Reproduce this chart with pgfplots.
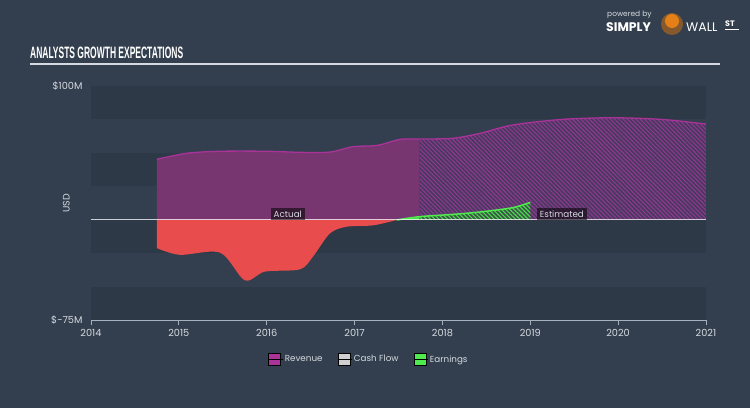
\documentclass[border=0pt]{standalone}
\usepackage{pgfplots}
\pgfplotsset{compat=1.18}
\usepackage{fontspec}
\setmainfont{Poppins}
\newfontfamily\titlefont{Liberation Sans}
\usetikzlibrary{patterns.meta}

\definecolor{bg}{HTML}{333F4E}
\definecolor{band}{HTML}{2D3946}
\definecolor{revfill}{HTML}{773670}
\definecolor{revline}{HTML}{A93398}
\definecolor{revhatchbg}{HTML}{4A3862}
\definecolor{revhatch}{HTML}{8E3A8C}
\definecolor{lossfill}{HTML}{E84C4C}
\definecolor{earnfill}{HTML}{4BDB4B}
\definecolor{earnline}{HTML}{4EEA4E}
\definecolor{earnhatchbg}{HTML}{3B5548}
\definecolor{txt}{HTML}{D5DAE0}
\definecolor{axisc}{HTML}{A7B1BD}
\definecolor{cashc}{HTML}{CFCFCF}

\begin{document}
\begin{tikzpicture}
\useasboundingbox (0bp,0bp) rectangle (750bp,408bp);
\fill[bg] (0bp,0bp) rectangle (750bp,408bp);

% title and rule
\node[anchor=west,inner sep=0,text=white] at (30bp,355bp)
  {\resizebox{153bp}{11.5bp}{\titlefont\bfseries ANALYSTS GROWTH EXPECTATIONS}};
\draw[color=txt,line width=1.3bp] (30bp,344bp) -- (720bp,344bp);

% logo
\node[anchor=west,inner sep=0,text=txt,font=\fontsize{7.5}{7.5}\selectfont] at (607bp,393bp) {powered by};
\node[anchor=west,inner sep=0,text=white,font=\fontsize{12.5}{12.5}\selectfont\bfseries] at (606bp,381bp) {SIMPLY};
\fill[brown!70!black] (672bp,384bp) circle (11bp);
\fill[orange!60!brown] (672bp,387bp) circle (7bp);
\node[anchor=west,inner sep=0,text=white,font=\fontsize{12.5}{12.5}\selectfont] at (686bp,381bp) {WALL};
\node[anchor=west,inner sep=0,text=white,font=\fontsize{8}{8}\selectfont\bfseries] at (725bp,384bp) {ST};
\draw[white,line width=0.8bp] (725bp,378.5bp) -- (739bp,378.5bp);

\begin{axis}[
  at={(91bp,87.5bp)}, anchor=south west,
  scale only axis, width=615bp, height=234.5bp,
  xmin=2014, xmax=2021, ymin=-75, ymax=100,
  axis x line*=bottom, axis y line*=left,
  x axis line style={-,draw=axisc,line width=0.9bp},
  y axis line style={draw=none},
  xtick={2014,2015,...,2021},
  x tick label style={/pgf/number format/1000 sep={}},
  xtick style={draw=axisc,line width=0.9bp},
  major tick length=5bp, tick align=outside,
  ytick={-75,100}, yticklabels={\$-75M,\$100M},
  ytick style={draw=none},
  tick label style={text=txt,font=\fontsize{9.8}{10}\selectfont},
  /pgf/number format/assume math mode=true,
  ylabel={USD},
  ylabel style={text=txt,font=\fontsize{9.5}{10}\selectfont,at={(axis description cs:-0.04,0.5)},anchor=center},
  legend columns=3,
  legend style={at={(0.452,-0.165)},anchor=center,draw=none,fill=none,
    text=txt,font=\fontsize{8.8}{9}\selectfont,
    /tikz/every even column/.append style={column sep=13bp}},
  legend image code/.code={\fill[#1] (0bp,-5.5bp) rectangle (12bp,6.5bp);\path (0bp,0bp) -- (14bp,0bp);},
]
\addlegendimage{fill=revline}
\addlegendentry{Revenue}
\addlegendimage{fill=cashc}
\addlegendentry{Cash Flow}
\addlegendimage{fill=earnline}
\addlegendentry{Earnings}

% background bands
\fill[band] (axis cs:2014,75) rectangle (axis cs:2021,100);
\fill[band] (axis cs:2014,25) rectangle (axis cs:2021,50);
\fill[band] (axis cs:2014,-25) rectangle (axis cs:2021,0);
\fill[band] (axis cs:2014,-75) rectangle (axis cs:2021,-50);

% revenue, actual
\addplot[forget plot,draw=none,fill=revfill,smooth,tension=0.5] coordinates {
  (2014.75,45.3) (2015.09,49.8) (2015.47,51.3) (2016.0,51.3) (2016.38,50.5)
  (2016.72,50.7) (2016.98,54.7) (2017.26,55.7) (2017.52,60.2) (2017.74,60.4)
} \closedcycle;
% revenue, estimated
\addplot[forget plot,draw=none,fill=revhatchbg,smooth,tension=0.5,
  postaction={pattern={Lines[angle=-45,distance=3bp,line width=1.1bp]},pattern color=revhatch}] coordinates {
  (2017.74,60.4) (2018.12,61.0) (2018.43,64.7) (2018.80,70.9) (2019.37,75.1)
  (2019.94,76.3) (2020.51,75.0) (2021.0,71.6)
} \closedcycle;
\addplot[forget plot,revline,line width=1.3bp,smooth,tension=0.5] coordinates {
  (2014.75,45.3) (2015.09,49.8) (2015.47,51.3) (2016.0,51.3) (2016.38,50.5)
  (2016.72,50.7) (2016.98,54.7) (2017.26,55.7) (2017.52,60.2) (2017.74,60.4)
  (2018.12,61.0) (2018.43,64.7) (2018.80,70.9) (2019.37,75.1)
  (2019.94,76.3) (2020.51,75.0) (2021.0,71.6)
};

% earnings, loss part
\addplot[forget plot,draw=none,fill=lossfill,smooth,tension=0.5] coordinates {
  (2014.75,-21) (2015.01,-26) (2015.47,-24.4) (2015.75,-45) (2015.98,-38.5)
  (2016.38,-36.8) (2016.53,-27) (2016.72,-10) (2016.91,-5) (2017.21,-4) (2017.48,0)
} \closedcycle;
% earnings, actual positive
\addplot[forget plot,draw=none,fill=earnfill,smooth] coordinates {
  (2017.48,0) (2017.74,2.5)
} \closedcycle;
% earnings, estimated
\addplot[forget plot,draw=none,fill=earnhatchbg,smooth,tension=0.5,
  postaction={pattern={Lines[angle=-45,distance=3bp,line width=1.1bp]},pattern color=earnfill}] coordinates {
  (2017.74,2.5) (2018.12,4.2) (2018.43,6.0) (2018.80,9.2) (2019.0,13.2)
} \closedcycle;
\addplot[forget plot,earnline,line width=1.5bp,smooth,tension=0.5] coordinates {
  (2017.48,0) (2017.74,2.5) (2018.12,4.2) (2018.43,6.0) (2018.80,9.2) (2019.0,13.2)
};

% zero line / cash flow
\draw[white,opacity=0.75,line width=1bp] (axis cs:2014,0) -- (axis cs:2021,0);

\node[fill=black,fill opacity=0.55,text opacity=1,text=txt,inner sep=2.8bp,
  font=\fontsize{8.8}{9}\selectfont] at (axis cs:2016.24,4.5) {Actual};
\node[fill=black,fill opacity=0.55,text opacity=1,text=txt,inner sep=2.8bp,
  font=\fontsize{8.8}{9}\selectfont] at (axis cs:2019.36,4.5) {Estimated};
\end{axis}
\end{tikzpicture}
\end{document}
